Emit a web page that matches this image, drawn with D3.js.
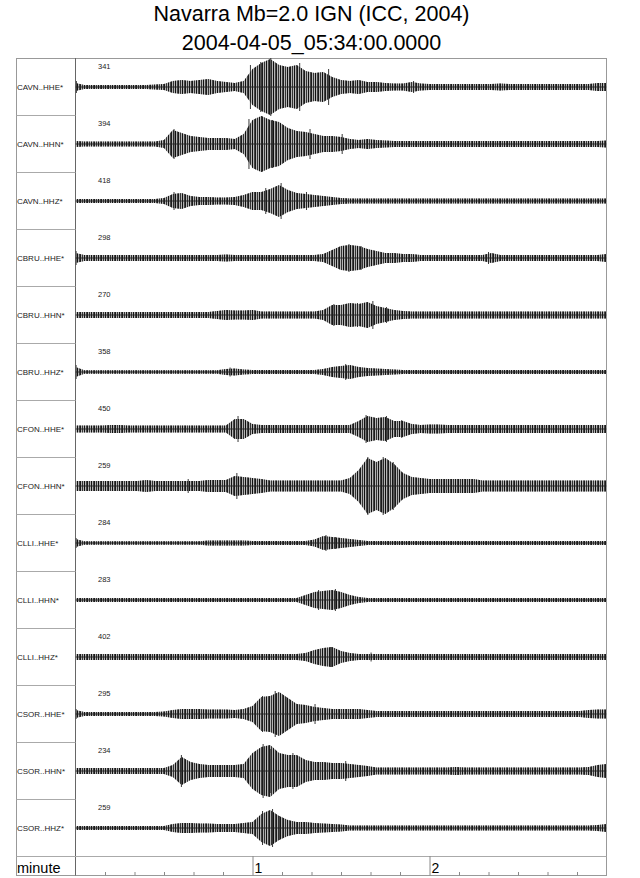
<!DOCTYPE html>
<html><head><meta charset="utf-8">
<script src="https://cdn.jsdelivr.net/npm/d3@7"></script>
<style>html,body{margin:0;padding:0;background:#fff;} svg{display:block;font-family:"Liberation Sans",Arial,Helvetica,sans-serif;}</style>
</head><body><svg id="chart" width="640" height="878"></svg>
<script>
// ---------- data ----------
const titleLines = ["Navarra Mb=2.0 IGN (ICC, 2004)", "2004-04-05_05:34:00.0000"];
const stations = ["CAVN..HHE*","CAVN..HHN*","CAVN..HHZ*","CBRU..HHE*","CBRU..HHN*","CBRU..HHZ*",
  "CFON..HHE*","CFON..HHN*","CLLI..HHE*","CLLI..HHN*","CLLI..HHZ*","CSOR..HHE*","CSOR..HHN*","CSOR..HHZ*"];
const peakCounts = [341,394,418,298,270,358,450,259,284,283,402,295,234,259];
const axisLabel = "minute";
const minuteTicks = [60,120];
const minuteTickLabels = ["1","2"];
const minorTicks = [10,20,30,40,50,70,80,90,100,110,130,140,150,160,170];
// envelope sample times (seconds after 05:34:00)
const sampleTimes = [0,3,6,9,12,15,18,21,24,27,30,33,36,39,42,45,48,51,54,57,60,63,66,69,72,75,78,81,84,87,90,
  93,96,99,102,105,108,111,114,117,120,123,126,129,132,135,138,141,144,147,150,153,156,159,162,165,168,171,174,177,180];
// half-amplitude envelopes (relative units, trace-normalised) read from the record
const envCAVN_HHE = [4,2,2,2,2,2,2,2,2,2.5, 3,6,7,6,7,8,6,5,4,6, 18,24,28,22,20,22,16,14,15,10, 7,6,7,5,5,4,3.5,3.5,5,3.5, 3,3,3,3,3,3,3,3,3.5,3, 3,3,3,3,3,3,3,3,3,4, 4];
const envCAVN_HHN = [3,2.5,2.5,2.5,2.5,2.5,2.5,2.5,2.5,2.5, 4,14,11,8,7,6,6,6,5,10, 24,28,24,22,16,13,12,10,8,8, 7,5,4,5,4,3.5,3,3,3,3, 3,3,3,3,3,3,3,3,3,3, 3,3,3,3,3,3,3,3,3,3, 3.5];
const envCAVN_HHZ = [2,2,2,2,2,2,2,2,2,2, 3,7,8,5,4,4,3.5,3.5,4,6, 9,9,12,16,11,8,7,6,5,4, 3,2.5,2.5,2.5,2.5,2.5,2.5,2.5,2.5,2.5, 2.5,2.5,2.5,2.5,2.5,2.5,2.5,2.5,2.5,2.5, 2.5,2.5,2.5,2.5,2.5,2.5,2.5,2.5,2.5,2.5, 2.5];
const envCBRU_HHE = [5,3,3,3,3,3,3,3,3,3, 3,3,3,3,3,3,3,3.5,3,3, 3,3,3,3,3,3,3,3,4,8, 12,13,12,9,7,5,5,4,4,3, 3,3,3,3,3,3,3,5,3,3, 3,3,3,3,3,3,3,3,3,3, 4];
const envCBRU_HHN = [3,3,3,3,3,3,3,3,3,3, 3,3,3,3,3,3,4,5,4.5,4.5, 5,3.5,3.5,3.5,3.5,3.5,3.5,3.5,5,10, 10,12,11,13,9,7,5,4,3.5,3.5, 3.5,3.5,3.5,3.5,3.5,3.5,3.5,3.5,3.5,3.5, 3.5,3.5,3.5,3.5,3.5,3.5,3.5,3.5,3.5,3.5, 3.5];
const envCBRU_HHZ = [5,1.8,1.8,1.8,1.8,1.8,1.8,1.8,1.8,1.8, 1.8,1.8,1.8,1.8,1.8,1.8,1.8,3,3.5,2.5, 2,2,2,2,2,2,2,2,3,5, 6,7,5,4,3.5,3,2.5,2,2,2, 2,2,2,2,2,2,2,2,2,2, 2,2,2,2,2,2,2,2,2,2, 2];
const envCFON_HHE = [3.5,3.5,3.5,3.5,4,4,3.5,3.5,3.5,3.5, 3.5,3.5,3.5,3.5,3.5,3.5,3.5,3.5,10,10, 5,4,4,4,4,4,4,4,4,4, 4,4,8,13,11,12,8,8,5,4, 4.5,4.5,4,4,4,4,4,4,4,4, 4,4,4,4,4,4,4,4,4,4, 4];
const envCFON_HHN = [5,5,5,5,5,5,5,5,6,5, 5,5,5,5,5,6,6,6,10,9, 8,7,5.5,5.5,5.5,5.5,5.5,5.5,5.5,5.5, 5.5,8,16,28,24,28,22,13,9,8, 7,7,7,7,7,7,5.5,5.5,5.5,5.5, 5.5,5.5,5.5,5.5,5.5,5.5,5.5,5.5,5.5,5.5, 5.5];
const envCLLI_HHE = [4,1.8,1.8,1.8,1.8,1.8,1.8,1.8,1.8,1.8, 1.8,1.8,1.8,1.8,1.8,2.5,2.5,2.5,2.5,2.5, 2,2,2,2,2,2,2,3.5,7,6, 5,4,3,2,2,2,2,2,2,2, 2,2,2,2,2,2,2,2,2,2, 2,2,2,2,2,2,2,2,2,2, 2];
const envCLLI_HHN = [2,2,2,2,2,2,2,2,2,2, 2,2,2,2,2,2,2,2,2,2, 2,2,2,2,2,2,5,8,9,10, 8,5,3,2,2,2,2,2,2,2, 2,2,2,2,2,2,2,2,2,2, 2,2,2,2,2,2,2,2,2,2, 2];
const envCLLI_HHZ = [3,3,3,3,3,3,3,3,3,3, 3,3,3,3,3,3,3,3,3,3, 3,3,3,3,3,3,4,7,9,10, 6,4,3,3,3,3,3,3,3,3, 3,3,3,3,3,3,3,3,3,3, 3,3,3,3,3,3,3,3,3,3, 3];
const envCSOR_HHE = [4,2,2,2,2,2,2,2,2,2, 2.5,4,5,5,5,4.5,4.5,4.5,4,5, 8,17,18,22,16,10,9,7,6,5, 5,5,5,4,3,3,3,3,3,3, 3,3,3,3,3,3,3,3,3,3, 3,3,3,3,3,3,3,3,4,4.5, 4.5];
const envCSOR_HHN = [3,3,3,3,3,3,3,3,3,3, 3,6,14,9,7,6,6,6,6,7, 18,24,26,18,16,16,11,9,9,8, 8,7,6,5,3.5,3.5,3.5,3.5,3.5,3.5, 3.5,3.5,3.5,4,3.5,3.5,3.5,3.5,3.5,3.5, 3.5,3.5,3.5,3.5,3.5,3.5,3.5,3.5,4,6, 7];
const envCSOR_HHZ = [2,2,2,2,2,2,2,2,2,2, 2,4,5,5,4.5,4.5,4,4,4,5, 6,14,18,12,8,6,6,5,4.5,4, 3.5,2.5,2.5,2.5,2.5,2.5,2.5,2.5,2.5,2.5, 2.5,2.5,2.5,2.5,2.5,2.5,2.5,2.5,2.5,2.5, 2.5,2.5,2.5,2.5,2.5,2.5,2.5,2.5,2.5,3, 4];
const envelopes = [envCAVN_HHE,envCAVN_HHN,envCAVN_HHZ,envCBRU_HHE,envCBRU_HHN,envCBRU_HHZ,envCFON_HHE,
  envCFON_HHN,envCLLI_HHE,envCLLI_HHN,envCLLI_HHZ,envCSOR_HHE,envCSOR_HHN,envCSOR_HHZ];
// individual large swings read from the record: [time s, half-amplitude]
const spikesCAVN_HHE = [[0.3,6],[59.3,22],[62.8,25],[66.2,29],[72.6,20],[76,24],[85.8,18],[114.6,6]];
const spikesCAVN_HHN = [[33.4,15],[58.8,25],[63.1,28],[66.8,24],[79.5,15],[90.4,10]];
const spikesCAVN_HHZ = [[33.4,9],[64.5,13],[69.7,18],[78.3,9]];
const spikesCBRU_HHE = [[0.2,7],[92.7,14],[96.8,12],[140,6]];
const spikesCBRU_HHN = [[87.6,11],[95.6,12],[100.8,14],[105.4,8]];
const spikesCBRU_HHZ = [[0.2,7],[52.4,4.5],[91.6,8]];
const spikesCFON_HHE = [[55.1,13],[98.5,14],[105.4,13],[110.6,9]];
const spikesCFON_HHN = [[38.2,7],[54.7,13],[99.1,29],[104.3,29],[107.7,24],[110.6,14]];
const spikesCLLI_HHE = [[0.2,5],[84.9,8],[88.1,6]];
const spikesCLLI_HHN = [[82.4,10],[88.1,11]];
const spikesCLLI_HHZ = [[86.4,10],[100.2,4.5]];
const spikesCSOR_HHE = [[0.2,5],[63.4,18],[67.7,23],[71.4,17],[81.2,10]];
const spikesCSOR_HHN = [[35.9,16],[63.6,27],[66.2,22],[73.7,18],[91.6,10]];
const spikesCSOR_HHZ = [[63.4,17],[66.8,19],[69.1,12]];
const spikes = [spikesCAVN_HHE,spikesCAVN_HHN,spikesCAVN_HHZ,spikesCBRU_HHE,spikesCBRU_HHN,spikesCBRU_HHZ,
  spikesCFON_HHE,spikesCFON_HHN,spikesCLLI_HHE,spikesCLLI_HHN,spikesCLLI_HHZ,spikesCSOR_HHE,spikesCSOR_HHN,spikesCSOR_HHZ];

// ---------- layout ----------
const svg = d3.select("#chart");
const L = 16.5, R = 606.5, T = 58, plotL = 75.5, rowH = 57;
const axisTop = T + rowH * stations.length; // 856
const B = 875.5;

const x = d3.scaleLinear().domain([0, 180]).range([plotL, R]);
const row = d3.scaleBand().domain(stations).range([T, axisTop]);
const amp = d3.scaleLinear().domain([-28.5, 28.5]).range([28.5, -28.5]);

const defs = svg.append("defs");
const pat = defs.append("pattern").attr("id","hatch").attr("patternUnits","userSpaceOnUse")
  .attr("width",7).attr("height",6);
[[0,"#111"],[2,"#444"],[3,"#1a1a1a"],[5,"#333"]].forEach(([px,c])=>
  pat.append("rect").attr("x",px).attr("y",0).attr("width",1).attr("height",6).attr("fill",c));
defs.append("clipPath").attr("id","plotclip").append("rect")
  .attr("x",plotL).attr("y",T).attr("width",R-plotL).attr("height",axisTop-T);

// title
svg.selectAll("text.title").data(titleLines).join("text")
  .attr("class","title").attr("x",(L+R)/2).attr("y",(d,i)=>i===0?21:49.5)
  .attr("text-anchor","middle").attr("font-size","21.5px").attr("fill","#000").text(d=>d);

// frame
svg.append("rect").attr("x",L).attr("y",T+0.5).attr("width",R-L).attr("height",B-T-0.5)
  .attr("fill","none").attr("stroke","#999").attr("stroke-width",1);
svg.append("line").attr("x1",plotL).attr("x2",plotL).attr("y1",T).attr("y2",B)
  .attr("stroke","#666").attr("stroke-width",1);
svg.selectAll("line.rowsep").data(stations.slice(1)).join("line").attr("class","rowsep")
  .attr("x1",L).attr("x2",plotL).attr("y1",d=>row(d)+0.5).attr("y2",d=>row(d)+0.5)
  .attr("stroke","#aaa");
svg.append("line").attr("x1",L).attr("x2",R).attr("y1",axisTop+0.5).attr("y2",axisTop+0.5)
  .attr("stroke","#aaa");

// traces
const area = d3.area().x((d,j)=>x(sampleTimes[j])).y0(d=>amp(-d)).y1(d=>amp(d));
const line0 = d3.line().x((d,j)=>x(sampleTimes[j])).y(()=>amp(0));
const plot = svg.append("g").attr("clip-path","url(#plotclip)");
const rows = plot.selectAll("g.trace").data(stations).join("g").attr("class","trace")
  .attr("transform",d=>`translate(0,${row(d)+row.bandwidth()/2+0.5})`);
rows.append("path").attr("d",(d,i)=>area(envelopes[i])).attr("fill","#b4b4b4").attr("stroke","none");
rows.append("path").attr("d",(d,i)=>area(envelopes[i])).attr("fill","url(#hatch)").attr("stroke","none");
rows.append("path").attr("d",(d,i)=>line0(envelopes[i])).attr("fill","none").attr("stroke","#222").attr("stroke-width",0.9);
rows.each(function(d,i){
  d3.select(this).selectAll("line.spike").data(spikes[i]).join("line").attr("class","spike")
    .attr("x1",s=>x(s[0])).attr("x2",s=>x(s[0])).attr("y1",s=>amp(s[1])).attr("y2",s=>amp(-s[1]))
    .attr("stroke","#222").attr("stroke-width",0.9);
});

// labels
svg.selectAll("text.sta").data(stations).join("text").attr("class","sta")
  .attr("x",L+0.5).attr("y",d=>row(d)+row.bandwidth()/2+3.2)
  .attr("font-size","8px").attr("fill","#222").text(d=>d);
svg.selectAll("text.cnt").data(stations).join("text").attr("class","cnt")
  .attr("x",98).attr("y",d=>row(d)+10.5)
  .attr("font-size","7.5px").attr("fill","#222").text((d,i)=>peakCounts[i]);

// axis row
svg.append("text").attr("x",L+0.5).attr("y",873).attr("font-size","14.5px").attr("fill","#000").text(axisLabel);
const minorAxis = d3.axisTop(x).tickValues(minorTicks).tickSize(3.5).tickFormat("");
const gMinor = svg.append("g").attr("transform",`translate(0,${B})`).call(minorAxis);
gMinor.select(".domain").remove();
gMinor.selectAll("line").attr("stroke","#888");
const majorAxis = d3.axisTop(x).tickValues(minuteTicks).tickSize(B-axisTop)
  .tickFormat((d,i)=>minuteTickLabels[i]);
const gMajor = svg.append("g").attr("transform",`translate(0,${B})`).call(majorAxis);
gMajor.select(".domain").remove();
gMajor.selectAll("line").attr("stroke","#888");
gMajor.selectAll("text").attr("x",1.5).attr("y",-2.5).attr("dy",null).attr("text-anchor","start")
  .attr("font-size","14px").attr("font-family",'"Liberation Sans",Arial,sans-serif').attr("fill","#000");
</script></body></html>
